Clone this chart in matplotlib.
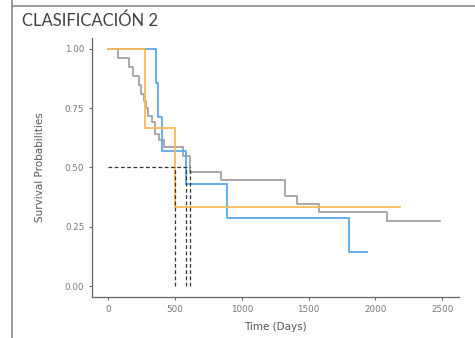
import matplotlib
matplotlib.use("Agg")
import matplotlib.pyplot as plt
from matplotlib.lines import Line2D

# Kaplan-Meier curves (time in days, survival after each drop)
orange_t = [0, 278, 500, 2185]
orange_s = [1.0, 0.667, 0.333, 0.333]

blue_t = [0, 358, 375, 403, 580, 893, 1806, 1937]
blue_s = [1.0, 0.857, 0.714, 0.571, 0.429, 0.286, 0.143, 0.143]

gray_t = [55, 72, 154, 184, 229, 250, 269, 284, 301, 326, 351, 383, 420,
          557, 612, 843, 1323, 1410, 1577, 2087, 2480]
gray_s = [1.0, 0.962, 0.923, 0.885, 0.846, 0.81, 0.78, 0.749, 0.718, 0.690,
          0.643, 0.618, 0.585, 0.55, 0.48, 0.448, 0.378, 0.345, 0.312, 0.273, 0.273]

medians = [500, 580, 612]

x_ticks = [0, 500, 1000, 1500, 2000, 2500]
y_ticks = [0.0, 0.25, 0.5, 0.75, 1.0]

fig = plt.figure(figsize=(4.75, 3.38), dpi=100)
ax = fig.add_axes([0.1937, 0.1213, 0.7726, 0.7663])

ax.step(gray_t, gray_s, where="post", color="#a3a3a3", lw=1.3)
ax.step(blue_t, blue_s, where="post", color="#5aa8ee", lw=1.3)
ax.step(orange_t, orange_s, where="post", color="#f9b95c", lw=1.3)

# median lines
ax.plot([0, max(medians)], [0.5, 0.5], color="#333333", lw=0.9, ls=(0, (3, 2)))
for m in medians:
    ax.plot([m, m], [0, 0.5], color="#333333", lw=0.9, ls=(0, (3, 2)))

ax.set_xlim(-120, 2625)
ax.set_ylim(-0.046, 1.046)
ax.set_xticks(x_ticks)
ax.set_yticks(y_ticks)
ax.set_yticklabels([f"{v:.2f}" for v in y_ticks])
for side in ("top", "right"):
    ax.spines[side].set_visible(False)
for side in ("left", "bottom"):
    ax.spines[side].set_color("#666666")
    ax.spines[side].set_linewidth(0.9)
ax.tick_params(colors="#666666", labelcolor="#777777", labelsize=6.3,
               length=2.5, width=0.8, pad=3)
ax.set_xlabel("Time (Days)", fontsize=7.5, color="#555555", labelpad=6)
ax.set_ylabel("Survival Probabilities", fontsize=7.5, color="#555555", labelpad=14)

# screenshot frame and title
fig.add_artist(Line2D([12 / 475, 1], [1 - 6 / 338] * 2, color="#8a8a8a", lw=1.2))
fig.add_artist(Line2D([12 / 475] * 2, [0, 1], color="#8a8a8a", lw=1.2))
fig.text(22 / 475, 1 - 21 / 338, "CLASIFICACIÓN 2", fontsize=12,
         family=["Lato", "DejaVu Sans"], color="#404040", va="center", ha="left")

fig.savefig("out.png", dpi=100)
